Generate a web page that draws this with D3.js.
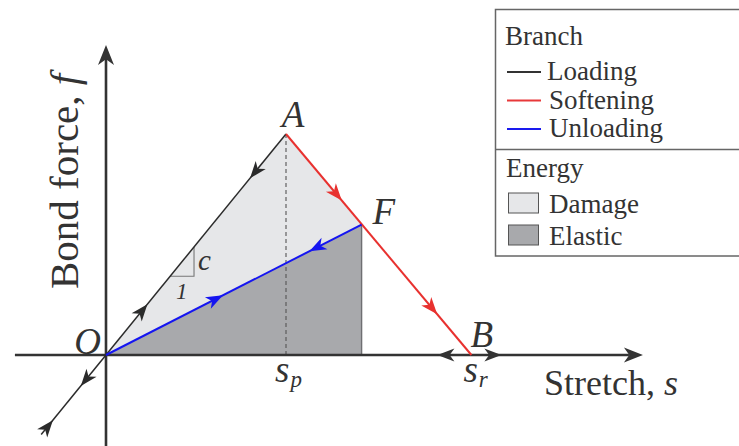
<!DOCTYPE html>
<html>
<head>
<meta charset="utf-8">
<script src="https://cdn.jsdelivr.net/npm/d3@7"></script>
<style>
  html, body { margin: 0; padding: 0; background: #fff; }
  svg { display: block; }
  svg text { font-family: "Liberation Serif", "Times New Roman", Times, Tinos, "Nimbus Roman", "Nimbus Roman No9 L", FreeSerif, "DejaVu Serif", "Noto Serif", serif; fill: #333; }
</style>
</head>
<body>
<svg id="chart" width="739" height="446"></svg>
<script>
// Key points of the bond force–stretch law (stretch s, force f, normalised to A)
const pointNames = ["O", "A", "F", "B"];
const stretchVals = [0, 1, 1.42, 2.03];
const forceVals = [0, 1, 0.59, 0];

// Loading branch continues into compression below the origin
const compressionEnd = -0.36;

// Arrow tips along each branch (stretch value of the tip, direction of travel)
const loadingArrowTips = [0.80, 0.23, -0.14, -0.295];
const loadingArrowDirs = [-1, 1, -1, 1];
const softeningArrowTips = [1.31, 1.84];
const unloadingArrowTips = [0.65, 1.13];
const unloadingArrowDirs = [1, -1];

// Slope triangle (run from s0 to s1 on the loading line)
const slopeRun = [0.356, 0.489];

// Axis extents in data units
const sExtent = [-0.506, 2.983];
const fExtent = [-0.42, 1.403];

// Legend entries
const branchNames = ["Loading", "Softening", "Unloading"];
const branchColors = ["#333333", "#e8393a", "#1a1aee"];
const energyNames = ["Damage", "Elastic"];
const energyColors = ["#e6e7e9", "#a8a9ac"];

const lineColors = { Loading: "#2b2b2b", Softening: "#e8312f", Unloading: "#1515f0" };

const svg = d3.select("#chart");
const x = d3.scaleLinear().domain([0, 1]).range([106, 286]);
const y = d3.scaleLinear().domain([0, 1]).range([355, 134]);

const P = {};
pointNames.forEach((n, i) => { P[n] = [stretchVals[i], forceVals[i]]; });
const px = p => [x(p[0]), y(p[1])];
const line = d3.line().x(d => x(d[0])).y(d => y(d[1]));

// Concave arrowhead with its tip at (tx, ty) pointing along angle ang
function arrowHead(g, tx, ty, ang, color, L = 17, W = 13) {
  const path = `M0,0 L${-L},${-W / 2} L${-L * 0.72},0 L${-L},${W / 2} Z`;
  g.append("path")
    .attr("d", path)
    .attr("fill", color)
    .attr("transform", `translate(${tx},${ty}) rotate(${ang * 180 / Math.PI})`);
}
function angleOf(p0, p1) {
  const a = px(p0), b = px(p1);
  return Math.atan2(b[1] - a[1], b[0] - a[0]);
}

// Energy areas
const Fbase = [P.F[0], 0];
svg.append("path").attr("d", line([P.O, P.A, P.F]) + "Z").attr("fill", energyColors[0]);
svg.append("path").attr("d", line([P.O, P.F, Fbase]) + "Z").attr("fill", energyColors[1]);

// Vertical edge under F and dashed drop from A
svg.append("path").attr("d", line([P.F, Fbase]))
  .attr("stroke", "#6f6f72").attr("stroke-width", 1.4).attr("fill", "none");
svg.append("path").attr("d", line([P.A, [P.A[0], 0]]))
  .attr("stroke", "#555").attr("stroke-width", 1.1).attr("stroke-dasharray", "4,3").attr("fill", "none");

// Slope triangle
const slopeK = P.A[1] / P.A[0];
svg.append("path")
  .attr("d", line([[slopeRun[0], slopeRun[0] * slopeK], [slopeRun[1], slopeRun[0] * slopeK], [slopeRun[1], slopeRun[1] * slopeK]]))
  .attr("stroke", "#777").attr("stroke-width", 1.1).attr("fill", "none");

// Axes
const axisColor = "#333";
svg.append("line")
  .attr("x1", x(sExtent[0])).attr("x2", x(sExtent[1]) - 14)
  .attr("y1", y(0)).attr("y2", y(0))
  .attr("stroke", axisColor).attr("stroke-width", 2.6);
svg.append("line")
  .attr("x1", x(0)).attr("x2", x(0))
  .attr("y1", y(fExtent[0])).attr("y2", y(fExtent[1]) + 14)
  .attr("stroke", axisColor).attr("stroke-width", 2.6);
arrowHead(svg, x(sExtent[1]), y(0), 0, axisColor, 19, 15);
arrowHead(svg, x(0), y(fExtent[1]), -Math.PI / 2, axisColor, 20, 16);

// Loading branch (including compression part)
const loadStart = [compressionEnd, compressionEnd * slopeK];
svg.append("path").attr("d", line([loadStart, P.A]))
  .attr("stroke", lineColors.Loading).attr("stroke-width", 1.5).attr("fill", "none");
loadingArrowTips.forEach((s, i) => {
  const p = px([s, s * slopeK]);
  const ang = angleOf(P.O, P.A) + (loadingArrowDirs[i] < 0 ? Math.PI : 0);
  arrowHead(svg, p[0], p[1], ang, lineColors.Loading);
});

// Softening branch
svg.append("path").attr("d", line([P.A, P.B]))
  .attr("stroke", lineColors.Softening).attr("stroke-width", 2).attr("fill", "none");
const softSlope = (P.B[1] - P.A[1]) / (P.B[0] - P.A[0]);
softeningArrowTips.forEach(s => {
  const p = px([s, P.A[1] + (s - P.A[0]) * softSlope]);
  arrowHead(svg, p[0], p[1], angleOf(P.A, P.B), lineColors.Softening);
});

// Unloading branch
svg.append("path").attr("d", line([P.O, P.F]))
  .attr("stroke", lineColors.Unloading).attr("stroke-width", 2).attr("fill", "none");
const unSlope = P.F[1] / P.F[0];
unloadingArrowTips.forEach((s, i) => {
  const p = px([s, s * unSlope]);
  const ang = angleOf(P.O, P.F) + (unloadingArrowDirs[i] < 0 ? Math.PI : 0);
  arrowHead(svg, p[0], p[1], ang, lineColors.Unloading);
});

// Double arrow at the residual stretch B
arrowHead(svg, x(P.B[0]) - 34, y(0), Math.PI, axisColor, 17, 13);
arrowHead(svg, x(P.B[0]) + 30, y(0), 0, axisColor, 17, 13);

// Point labels
const italicBig = "37px";
svg.append("text").attr("x", x(P.O[0]) - 5).attr("y", y(P.O[1]) - 1)
  .attr("text-anchor", "end").attr("font-style", "italic").attr("font-size", italicBig).text("O");
svg.append("text").attr("x", x(P.A[0]) + 7).attr("y", y(P.A[1]) - 7)
  .attr("text-anchor", "middle").attr("font-style", "italic").attr("font-size", italicBig).text("A");
svg.append("text").attr("x", x(P.F[0]) + 11).attr("y", y(P.F[1]) - 1)
  .attr("font-style", "italic").attr("font-size", italicBig).text("F");
svg.append("text").attr("x", x(P.B[0]) - 1).attr("y", y(P.B[1]) - 8)
  .attr("font-style", "italic").attr("font-size", italicBig).text("B");

// Slope labels
svg.append("text").attr("x", x(slopeRun[1]) + 4).attr("y", y((slopeRun[0] + slopeRun[1]) / 2 * slopeK) + 8)
  .attr("font-style", "italic").attr("font-size", "29px").text("c");
svg.append("text").attr("x", x((slopeRun[0] + slopeRun[1]) / 2) - 6).attr("y", y(slopeRun[0] * slopeK) + 23)
  .attr("font-style", "italic").attr("font-size", "23px").text("1");

// Stretch markers s_p and s_r
function subLabel(sx, base, sub) {
  const t = svg.append("text").attr("x", sx).attr("y", y(0) + 27)
    .attr("font-style", "italic").attr("font-size", "37px");
  t.append("tspan").text(base);
  t.append("tspan").attr("font-size", "23px").attr("dy", 5).attr("dx", 1).text(sub);
}
subLabel(x(P.A[0]) - 11, "s", "p");
subLabel(x(P.B[0]) - 8, "s", "r");

// Axis titles
const xt = svg.append("text").attr("x", 544).attr("y", 395).attr("font-size", "36px");
xt.append("tspan").text("Stretch, ");
xt.append("tspan").attr("font-style", "italic").text("s");

const yt = svg.append("text").attr("transform", "translate(78,289) rotate(-90)").attr("font-size", "41px");
yt.append("tspan").text("Bond force, ");
yt.append("tspan").attr("font-style", "italic").text("f");

// Legend
const lg = svg.append("g");
lg.append("rect").attr("x", 495.5).attr("y", 9.5).attr("width", 260).attr("height", 246.5)
  .attr("fill", "#fff").attr("stroke", "#666").attr("stroke-width", 1.5);
lg.append("line").attr("x1", 495.5).attr("x2", 739).attr("y1", 149.5).attr("y2", 149.5)
  .attr("stroke", "#666").attr("stroke-width", 1.5);
const lfs = "27px";
lg.append("text").attr("x", 505).attr("y", 45).attr("font-size", lfs).text("Branch");
const branchY = d3.scalePoint().domain(branchNames).range([80, 137]);
branchNames.forEach((n, i) => {
  const by = branchY(n);
  lg.append("line").attr("x1", 507).attr("x2", 541).attr("y1", by - 8).attr("y2", by - 8)
    .attr("stroke", branchColors[i]).attr("stroke-width", 2);
  lg.append("text").attr("x", i === 0 ? 547 : 549).attr("y", by).attr("font-size", lfs).text(n);
});
lg.append("text").attr("x", 506).attr("y", 177).attr("font-size", lfs).text("Energy");
const energyY = d3.scalePoint().domain(energyNames).range([213, 245]);
energyNames.forEach((n, i) => {
  const ey = energyY(n);
  lg.append("rect").attr("x", 508.5).attr("y", ey - 20).attr("width", 30).attr("height", 20)
    .attr("fill", energyColors[i]).attr("stroke", "#555").attr("stroke-width", 1);
  lg.append("text").attr("x", 549).attr("y", ey).attr("font-size", lfs).text(n);
});
</script>
</body>
</html>
